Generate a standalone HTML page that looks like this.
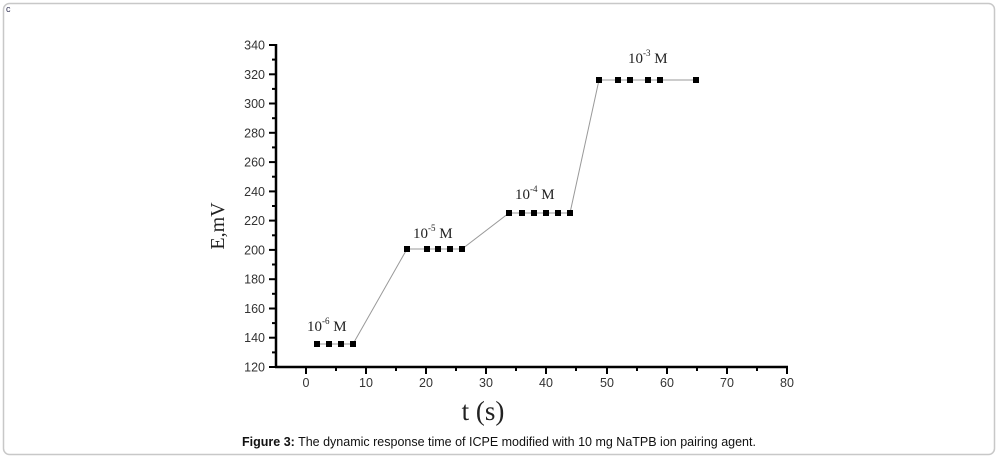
<!DOCTYPE html>
<html><head><style>
html,body{margin:0;padding:0;background:#fff;}
svg{display:block;}
</style></head><body>
<svg width="998" height="457" viewBox="0 0 998 457" xmlns="http://www.w3.org/2000/svg">
<rect x="3.5" y="3.5" width="991" height="451" rx="6" fill="#fff" stroke="#c8c8c8" stroke-width="1.5"/>
<text x="6" y="12" font-family="Liberation Sans, sans-serif" font-size="9" fill="#335">c</text>
<g stroke="#000" stroke-width="2.5" fill="none">
<line x1="276" y1="44" x2="276" y2="368"/>
<line x1="275" y1="367" x2="788" y2="367"/>
</g>
<g stroke="#000" stroke-width="2">
<!-- y ticks -->
<line x1="269" y1="45" x2="276" y2="45"/><line x1="272" y1="59.6" x2="276" y2="59.6"/>
<line x1="269" y1="74.3" x2="276" y2="74.3"/><line x1="272" y1="88.9" x2="276" y2="88.9"/>
<line x1="269" y1="103.5" x2="276" y2="103.5"/><line x1="272" y1="118.2" x2="276" y2="118.2"/>
<line x1="269" y1="132.8" x2="276" y2="132.8"/><line x1="272" y1="147.4" x2="276" y2="147.4"/>
<line x1="269" y1="162.1" x2="276" y2="162.1"/><line x1="272" y1="176.7" x2="276" y2="176.7"/>
<line x1="269" y1="191.4" x2="276" y2="191.4"/><line x1="272" y1="206" x2="276" y2="206"/>
<line x1="269" y1="220.6" x2="276" y2="220.6"/><line x1="272" y1="235.3" x2="276" y2="235.3"/>
<line x1="269" y1="249.9" x2="276" y2="249.9"/><line x1="272" y1="264.5" x2="276" y2="264.5"/>
<line x1="269" y1="279.2" x2="276" y2="279.2"/><line x1="272" y1="293.8" x2="276" y2="293.8"/>
<line x1="269" y1="308.5" x2="276" y2="308.5"/><line x1="272" y1="323.1" x2="276" y2="323.1"/>
<line x1="269" y1="337.7" x2="276" y2="337.7"/><line x1="272" y1="352.4" x2="276" y2="352.4"/>
<line x1="269" y1="367" x2="276" y2="367"/>
<!-- x ticks -->
<line x1="306" y1="367" x2="306" y2="374"/><line x1="336" y1="367" x2="336" y2="371"/>
<line x1="366" y1="367" x2="366" y2="374"/><line x1="396" y1="367" x2="396" y2="371"/>
<line x1="426" y1="367" x2="426" y2="374"/><line x1="456" y1="367" x2="456" y2="371"/>
<line x1="486" y1="367" x2="486" y2="374"/><line x1="516" y1="367" x2="516" y2="371"/>
<line x1="546" y1="367" x2="546" y2="374"/><line x1="576" y1="367" x2="576" y2="371"/>
<line x1="607" y1="367" x2="607" y2="374"/><line x1="637" y1="367" x2="637" y2="371"/>
<line x1="667" y1="367" x2="667" y2="374"/><line x1="697" y1="367" x2="697" y2="371"/>
<line x1="727" y1="367" x2="727" y2="374"/><line x1="757" y1="367" x2="757" y2="371"/>
<line x1="787" y1="367" x2="787" y2="374"/>
</g>
<g font-family="Liberation Sans, sans-serif" font-size="12.5" fill="#333" text-anchor="end">
<text x="265" y="49.5">340</text><text x="265" y="78.8">320</text><text x="265" y="108">300</text>
<text x="265" y="137.3">280</text><text x="265" y="166.6">260</text><text x="265" y="195.9">240</text>
<text x="265" y="225.1">220</text><text x="265" y="254.4">200</text><text x="265" y="283.7">180</text>
<text x="265" y="313">160</text><text x="265" y="342.2">140</text><text x="265" y="371.5">120</text>
</g>
<g font-family="Liberation Sans, sans-serif" font-size="12.5" fill="#333" text-anchor="middle">
<text x="306" y="387">0</text><text x="366" y="387">10</text><text x="426" y="387">20</text>
<text x="486" y="387">30</text><text x="546" y="387">40</text><text x="607" y="387">50</text>
<text x="667" y="387">60</text><text x="727" y="387">70</text><text x="787" y="387">80</text>
</g>
<text transform="translate(224,226) rotate(-90)" font-family="Liberation Serif, serif" font-size="20" fill="#222" text-anchor="middle">E,mV</text>
<text x="483" y="420" font-family="Liberation Serif, serif" font-size="27" fill="#222" text-anchor="middle">t (s)</text>
<polyline fill="none" stroke="#999" stroke-width="1" points="317,344 329,344 341,344 353,344 407,249 427,249 438,249 450,249 462,249 509,213 522,213 534,213 546,213 558,213 570,213 599,80 618,80 630,80 648,80 660,80 696,80"/>
<g fill="#000">
<rect x="314" y="341" width="6" height="6"/><rect x="326" y="341" width="6" height="6"/><rect x="338" y="341" width="6" height="6"/><rect x="350" y="341" width="6" height="6"/>
<rect x="404" y="246" width="6" height="6"/><rect x="424" y="246" width="6" height="6"/><rect x="435" y="246" width="6" height="6"/><rect x="447" y="246" width="6" height="6"/><rect x="459" y="246" width="6" height="6"/>
<rect x="506" y="210" width="6" height="6"/><rect x="519" y="210" width="6" height="6"/><rect x="531" y="210" width="6" height="6"/><rect x="543" y="210" width="6" height="6"/><rect x="555" y="210" width="6" height="6"/><rect x="567" y="210" width="6" height="6"/>
<rect x="596" y="77" width="6" height="6"/><rect x="615" y="77" width="6" height="6"/><rect x="627" y="77" width="6" height="6"/><rect x="645" y="77" width="6" height="6"/><rect x="657" y="77" width="6" height="6"/><rect x="693" y="77" width="6" height="6"/>
</g>
<g font-family="Liberation Serif, serif" font-size="15" fill="#222">
<text x="307" y="331">10<tspan font-size="9" dy="-7">-6</tspan><tspan dy="7"> M</tspan></text>
<text x="413" y="238">10<tspan font-size="9" dy="-7">-5</tspan><tspan dy="7"> M</tspan></text>
<text x="515" y="199">10<tspan font-size="9" dy="-7">-4</tspan><tspan dy="7"> M</tspan></text>
<text x="628" y="63">10<tspan font-size="9" dy="-7">-3</tspan><tspan dy="7"> M</tspan></text>
</g>
<text x="499" y="446" font-family="Liberation Sans, sans-serif" font-size="12.5" fill="#111" text-anchor="middle"><tspan font-weight="bold">Figure 3:</tspan> The dynamic response time of ICPE modified with 10 mg NaTPB ion pairing agent.</text>
</svg>
</body></html>
